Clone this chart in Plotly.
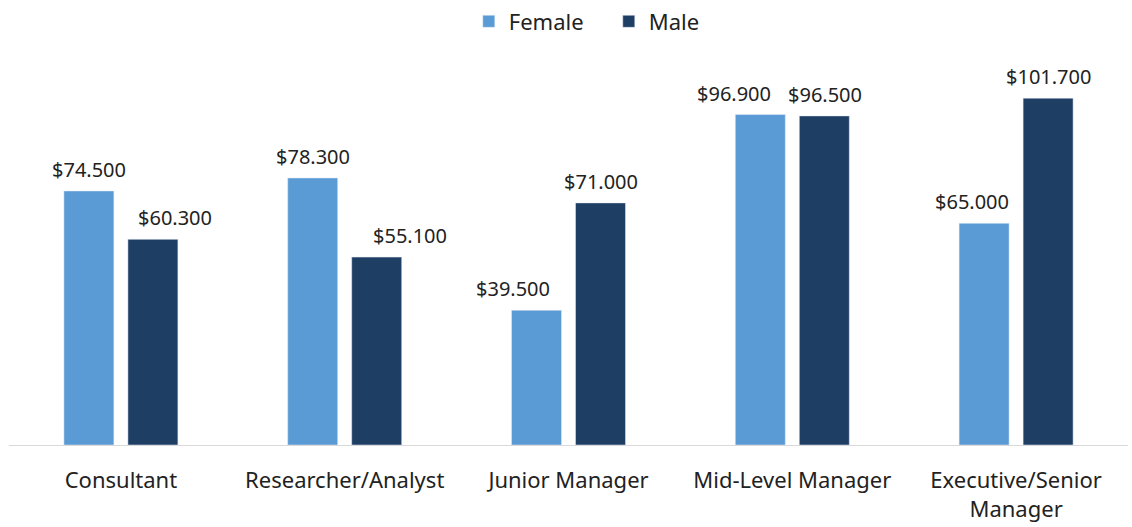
import plotly.graph_objects as go

categories = ["Consultant", "Researcher/Analyst", "Junior Manager", "Mid-Level Manager", "Executive/Senior<br>Manager"]
female = [74500, 78300, 39500, 96900, 65000]
male = [60300, 55100, 71000, 96500, 101700]

# horizontal nudges (px) of the value labels, as placed in the original chart
female_label_dx = [0, 0, -24, -26, -12]
male_label_dx = [22, 33, 0, 1, 0]

BARGAP = 0.428
BARGROUPGAP = 0.219

def fmt(v):
    return "$" + f"{v:,.0f}".replace(",", ".")

fig = go.Figure()
series = [("Female", female, "#5B9BD5", female_label_dx), ("Male", male, "#1F3E64", male_label_dx)]
for name, vals, color, _ in series:
    fig.add_trace(go.Bar(name=name, x=categories, y=vals, marker_color=color))

slot = (1 - BARGAP) / len(series)
for k, (name, vals, color, dxs) in enumerate(series):
    off = -(1 - BARGAP) / 2 + slot * (k + 0.5)
    for i, (v, dx) in enumerate(zip(vals, dxs)):
        fig.add_annotation(x=i + off, y=v, xref="x", yref="y", text=fmt(v),
                           showarrow=False, yanchor="bottom", yshift=6, xshift=dx,
                           font=dict(size=20, color="#222222"))

fig.update_layout(
    width=1132, height=527,
    barmode="group", bargap=BARGAP, bargroupgap=BARGROUPGAP,
    plot_bgcolor="white", paper_bgcolor="white",
    font=dict(family="Noto Sans, Open Sans, sans-serif", size=21, color="#222222"),
    margin=dict(l=9, r=4, t=60, b=82, autoexpand=False),
    legend=dict(orientation="h", x=0.536, xanchor="center", y=1.1, yanchor="middle",
                font=dict(size=22), entrywidth=95),
    showlegend=True,
)
fig.update_xaxes(showline=True, linecolor="#D9D9D9", linewidth=1, ticks="",
                 tickfont=dict(size=22), ticklabelstandoff=16, automargin=False,
                 range=[-0.5, len(categories) - 0.5])
fig.update_yaxes(visible=False, range=[0, 112900], automargin=False)

fig.write_html("out.html", config={"displayModeBar": False},
               post_script="document.body.style.margin='0';")
